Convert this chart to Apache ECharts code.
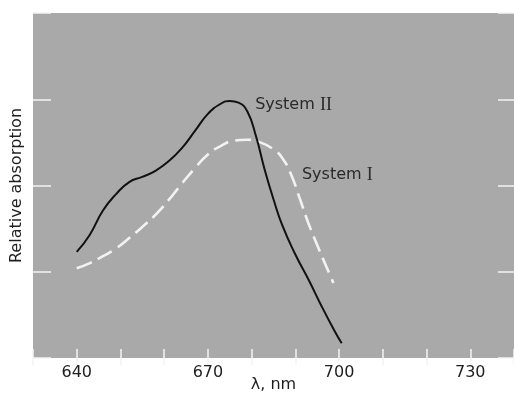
<!DOCTYPE html>
<html>
<head>
<meta charset="utf-8">
<script src="https://cdn.jsdelivr.net/npm/echarts@6/dist/echarts.min.js"></script>
<style>
  html, body { margin: 0; padding: 0; background: #ffffff; }
  #chart { width: 514px; height: 398px; }
</style>
</head>
<body>
<div id="chart"></div>
<script>
// Absorption spectra of the two photosystems (relative units vs wavelength, nm)
const systemIIWavelength = [640, 643, 646, 649, 652, 655, 658, 661, 664, 667, 670, 673, 675, 677, 679, 681, 683, 685, 687, 690, 693, 696, 699, 700.6];
const systemIIValue      = [1.23, 1.43, 1.71, 1.90, 2.04, 2.10, 2.17, 2.28, 2.43, 2.63, 2.83, 2.95, 2.98, 2.96, 2.86, 2.57, 2.18, 1.84, 1.54, 1.20, 0.91, 0.60, 0.31, 0.17];

const systemIWavelength = [640, 643, 646, 649, 652, 655, 658, 661, 664, 667, 670, 673, 676, 679, 682, 685, 687, 689, 691, 693, 695, 697, 698.7];
const systemIValue      = [1.04, 1.10, 1.18, 1.27, 1.39, 1.52, 1.66, 1.83, 2.02, 2.20, 2.36, 2.46, 2.52, 2.53, 2.50, 2.42, 2.32, 2.13, 1.85, 1.56, 1.31, 1.07, 0.87];

const tickLabels = [640, 670, 700, 730];
const curveNames = ['System II', 'System I'];

const FONT = 'DejaVu Sans';
const pairs = (xs, ys) => xs.map((x, i) => [x, ys[i]]);

const tickStyle = { show: true, inside: true, length: 9, lineStyle: { color: '#f4f4f4', width: 1.5 } };

// curve caption: plain word followed by a serif roman numeral
const captionLabel = name => {
  const [word, numeral] = name.split(' ');
  return {
    show: true, position: 'right', distance: 0,
    formatter: word + ' {r|' + numeral + '}',
    color: '#2a2a2a', fontFamily: FONT, fontSize: 16,
    rich: { r: { fontFamily: 'Liberation Serif', fontSize: 18, color: '#2a2a2a' } }
  };
};

const chart = echarts.init(document.getElementById('chart'), null, { renderer: 'canvas' });
chart.setOption({
  animation: false,
  backgroundColor: '#ffffff',
  grid: {
    left: 33, right: 0, top: 13, bottom: 40,
    outerBoundsMode: 'none', containLabel: false,
    show: true, backgroundColor: '#a9a9a9', borderWidth: 0
  },
  xAxis: [
    {
      type: 'value', min: 630, max: 740, interval: 10,
      axisLine: { show: false },
      axisTick: tickStyle,
      splitLine: { show: false },
      axisLabel: {
        margin: 7, color: '#1e1e1e', fontFamily: FONT, fontSize: 16,
        formatter: v => tickLabels.includes(v) ? String(v) : ''
      },
      name: 'λ, nm', nameLocation: 'middle', nameGap: 19, nameMoveOverlap: false,
      nameTextStyle: { color: '#1e1e1e', fontFamily: FONT, fontSize: 16, verticalAlign: 'top' }
    },
    {
      type: 'value', position: 'top', min: 630, max: 740, interval: 10,
      axisLine: { show: false },
      axisTick: Object.assign({}, tickStyle, { length: 7 }),
      splitLine: { show: false },
      axisLabel: { show: false }
    }
  ],
  yAxis: [
    {
      type: 'value', min: 0, max: 4, interval: 1,
      axisLine: { show: false },
      axisTick: Object.assign({}, tickStyle, { length: 18 }),
      splitLine: { show: false },
      axisLabel: { show: false },
      name: 'Relative absorption', nameLocation: 'middle', nameGap: 8, nameMoveOverlap: false,
      nameTextStyle: { color: '#1e1e1e', fontFamily: FONT, fontSize: 16 }
    },
    {
      type: 'value', position: 'right', min: 0, max: 4, interval: 1,
      axisLine: { show: false },
      axisTick: Object.assign({}, tickStyle, { length: 16 }),
      splitLine: { show: false },
      axisLabel: { show: false }
    }
  ],
  series: [
    {
      name: curveNames[1], type: 'line', smooth: 0.5, symbol: 'none',
      data: pairs(systemIWavelength, systemIValue),
      lineStyle: { color: '#f2f2f2', width: 2.6, type: [16, 7] },
      markPoint: {
        symbol: 'circle', symbolSize: 0,
        data: [{ coord: [691.5, 2.12] }],
        label: captionLabel(curveNames[1])
      }
    },
    {
      name: curveNames[0], type: 'line', smooth: 0.5, symbol: 'none',
      data: pairs(systemIIWavelength, systemIIValue),
      lineStyle: { color: '#111111', width: 2 },
      markPoint: {
        symbol: 'circle', symbolSize: 0,
        data: [{ coord: [680.8, 2.93] }],
        label: captionLabel(curveNames[0])
      }
    }
  ]
});
</script>
</body>
</html>
